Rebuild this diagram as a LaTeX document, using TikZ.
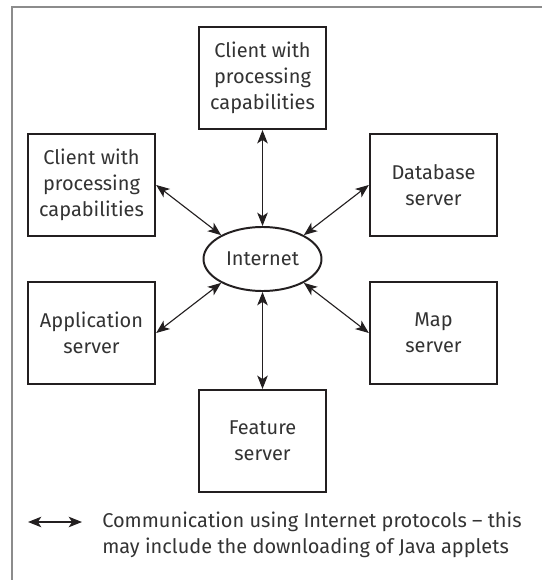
\documentclass[tikz,border=0pt]{standalone}
\usepackage{fontspec}
\setmainfont{Fira Sans}
\usepackage{tikz}
\usetikzlibrary{arrows.meta,positioning,shapes.geometric}
\definecolor{nwink}  {HTML}{231F20}
\definecolor{nwtext} {HTML}{333333}
\definecolor{nwrule} {HTML}{8C8C8C}
\tikzset{
  nwbox/.style={draw=nwink, line width=1.8pt, fill=white, align=center,
                minimum width=3.17cm, minimum height=2.54cm, inner sep=0pt,
                font=\fontsize{14.2}{18.5}\selectfont, text=nwtext},
  nwnet/.style={ellipse, draw=nwink, line width=1.4pt, fill=white,
                minimum width=2.95cm, minimum height=1.6cm, inner sep=0pt,
                font=\fontsize{14.2}{18.5}\selectfont, text=nwtext},
  nwedge/.style={{Stealth[length=9.5pt,width=7.5pt,inset=2.5pt]}-{Stealth[length=9.5pt,width=7.5pt,inset=2.5pt]},
                 draw=nwink, line width=0.8pt},
  nwlabel/.style={font=\fontsize{14.2}{18.5}\selectfont, text=nwtext, align=left, inner sep=0pt},
  nwframe/.style={draw=nwrule, line width=1.1pt},
}
\begin{document}
\begin{tikzpicture}
  \useasboundingbox (0,0) rectangle (13.55,-14.5);
  \draw[nwframe] (13.55,-0.175) -- (0.3,-0.175) -- (0.3,-14.5);

  \node[nwnet] (net)   at (6.5625,-6.475)  {Internet};
  \node[nwbox] (ctop)  at (6.5625,-1.95)   {Client with\\processing\\capabilities};
  \node[nwbox] (cleft) at (2.2875,-4.625)  {Client with\\processing\\capabilities};
  \node[nwbox] (db)    at (10.8375,-4.625) {Database\\server};
  \node[nwbox] (app)   at (2.2875,-8.325)  {Application\\server};
  \node[nwbox] (map)   at (10.8375,-8.325) {Map\\server};
  \node[nwbox] (feat)  at (6.5625,-11.025) {Feature\\server};

  \draw[nwedge] (ctop) -- (net);
  \draw[nwedge] (cleft.east) -- (net.150);
  \draw[nwedge] (db.west) -- (net.30);
  \draw[nwedge] (app.east) -- (net.210);
  \draw[nwedge] (map.west) -- (net.330);
  \draw[nwedge] (feat) -- (net);

  % legend
  \coordinate (lgA) at (0.7,-13.05);
  \coordinate (lgB) at (2.05,-13.05);
  \draw[nwedge] (lgA) -- (lgB);
  \node[nwlabel, anchor=west] (lgtext) at (2.55,-13.375)
    {Communication using Internet protocols – this\\may include the downloading of Java applets};
\end{tikzpicture}
\end{document}
